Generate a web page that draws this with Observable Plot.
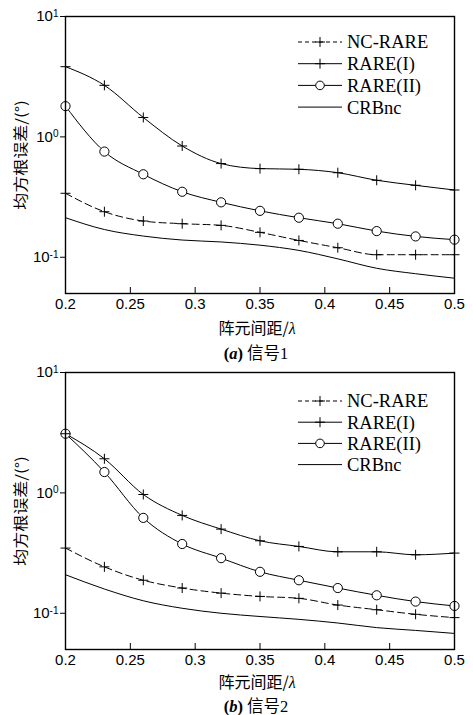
<!DOCTYPE html>
<html><head><meta charset="utf-8">
<script src="https://cdn.jsdelivr.net/npm/d3@7"></script>
<script src="https://cdn.jsdelivr.net/npm/@observablehq/plot@0.6"></script>
<style>
body{margin:0;background:#fff;}
#root{position:relative;width:473px;height:715px;overflow:hidden;background:#fff;}
.abs{position:absolute;white-space:nowrap;line-height:1;}
.panel{position:absolute;left:0;}
.xlabel{font-family:"Noto Sans CJK SC",sans-serif;font-size:16px;transform:translate(-50%,-50%);}
.xlabel i{line-height:1;}
.ylabel{font-family:"Noto Sans CJK SC",sans-serif;font-size:17px;transform:translate(-50%,-50%) rotate(-90deg) scaleY(0.85);}
.caption{font-size:16.5px;transform:translate(-50%,-50%);}
.caption span{line-height:1;}
.serif{font-family:"Liberation Serif","Times New Roman",serif;}
.cjk{font-family:"Noto Sans CJK SC",sans-serif;}
</style>
</head><body>
<div id="root"></div>
<script>
// ---- data ----
const spacing = [0.2, 0.23, 0.26, 0.29, 0.32, 0.35, 0.38, 0.41, 0.44, 0.47, 0.5];
const seriesNames = ["NC-RARE", "RARE(I)", "RARE(II)", "CRBnc"];

// panel (a) 信号1
const a_ncRare = [0.34, 0.239, 0.20, 0.19, 0.184, 0.161, 0.138, 0.12, 0.105, 0.105, 0.105];
const a_rare1  = [3.83, 2.68, 1.45, 0.84, 0.60, 0.545, 0.538, 0.504, 0.436, 0.396, 0.362];
const a_rare2  = [1.80, 0.755, 0.489, 0.35, 0.286, 0.243, 0.213, 0.19, 0.165, 0.149, 0.140];
const a_crb    = [0.213, 0.170, 0.150, 0.139, 0.134, 0.126, 0.114, 0.097, 0.081, 0.073, 0.067];

// panel (b) 信号2
const b_ncRare = [0.348, 0.243, 0.188, 0.162, 0.147, 0.138, 0.133, 0.117, 0.107, 0.098, 0.092];
const b_rare1  = [3.1, 1.92, 0.97, 0.65, 0.50, 0.40, 0.359, 0.324, 0.324, 0.306, 0.316];
const b_rare2  = [3.1, 1.49, 0.62, 0.376, 0.287, 0.221, 0.188, 0.162, 0.141, 0.125, 0.115];
const b_crb    = [0.209, 0.159, 0.127, 0.110, 0.100, 0.094, 0.089, 0.083, 0.076, 0.072, 0.068];

const xTicks = [0.2, 0.25, 0.3, 0.35, 0.4, 0.45, 0.5];
const xTickLabels = ["0.2", "0.25", "0.3", "0.35", "0.4", "0.45", "0.5"];
const yTicks = [0.1, 1, 10];
const yTickExponents = ["-1", "0", "1"];
const xLabel = "阵元间距/";
const yLabel = "均方根误差/(°)";
const captionsLetter = ["a", "b"];
const captionsText = ["信号", "信号"];
const captionsNum = ["1", "2"];

// ---- helpers ----
const thinPlus = {
  draw(ctx, size) {
    const r = Math.sqrt(size / Math.PI);
    ctx.moveTo(-r, 0); ctx.lineTo(r, 0);
    ctx.moveTo(0, -r); ctx.lineTo(0, r);
  }
};
const toRows = (vals) => spacing.map((x, i) => ({x, y: vals[i]}));

function makePanel(nc, r1, r2, crb) {
  const dNc = toRows(nc), dR1 = toRows(r1), dR2 = toRows(r2), dCrb = toRows(crb);
  const svg = Plot.plot({
    width: 473, height: 340,
    marginLeft: 65, marginRight: 19, marginTop: 16, marginBottom: 47,
    style: {fontFamily: "'Liberation Sans', Arial, sans-serif", fontSize: "15px", color: "black", background: "transparent", overflow: "visible"},
    x: {domain: [0.2, 0.5]},
    y: {type: "log", domain: [0.05, 10]},
    marks: [
      Plot.line(dCrb, {x: "x", y: "y", curve: "monotone-x", stroke: "black", strokeWidth: 1}),
      Plot.line(dNc, {x: "x", y: "y", curve: "monotone-x", stroke: "black", strokeWidth: 1, strokeDasharray: "7,4"}),
      Plot.line(dR2, {x: "x", y: "y", curve: "monotone-x", stroke: "black", strokeWidth: 1}),
      Plot.line(dR1, {x: "x", y: "y", curve: "monotone-x", stroke: "black", strokeWidth: 1}),
      Plot.dot(dR2, {x: "x", y: "y", symbol: "circle", r: 4.6, stroke: "black", fill: "white", strokeWidth: 1}),
      Plot.dot(dNc, {x: "x", y: "y", symbol: thinPlus, r: 5, stroke: "black", fill: "none", strokeWidth: 1}),
      Plot.dot(dR1, {x: "x", y: "y", symbol: thinPlus, r: 5, stroke: "black", fill: "none", strokeWidth: 1}),
      Plot.axisX({ticks: xTicks, tickFormat: (d) => xTickLabels[xTicks.indexOf(d)], tickSize: -6, tickPadding: 11, label: null, fontSize: 15}),
      Plot.axisY({ticks: yTicks, tickFormat: (d) => "10^" + yTickExponents[yTicks.indexOf(d)], tickSize: 5, tickPadding: 2, label: null, fontSize: 15}),
      Plot.frame({stroke: "black", strokeWidth: 1.4})
    ]
  });
  // superscript exponents
  d3.select(svg).selectAll('g[aria-label="y-axis tick label"] text').each(function() {
    const t = d3.select(this);
    const parts = t.text().split("^");
    t.text(null);
    t.append("tspan").text(parts[0]);
    t.append("tspan").attr("dy", "-0.45em").attr("font-size", "10px").text(parts[1]);
  });
  return svg;
}

function makeLegend(rowTop, spacingY) {
  const w = 160, h = 100;
  const s = d3.create("svg").attr("width", w).attr("height", h)
    .style("position", "absolute").style("overflow", "visible");
  seriesNames.forEach((name, i) => {
    const y = rowTop + i * spacingY;
    const g = s.append("g").attr("transform", `translate(0,${y})`);
    const ln = g.append("line").attr("x1", 0).attr("x2", 44).attr("y1", 0).attr("y2", 0)
      .attr("stroke", "black").attr("stroke-width", 1);
    if (i === 0) ln.attr("stroke-dasharray", "4,3");
    if (i === 0 || i === 1) {
      g.append("path").attr("d", "M17,0H27M22,-5V5").attr("stroke", "black").attr("fill", "none");
    } else if (i === 2) {
      g.append("circle").attr("cx", 22).attr("cy", 0).attr("r", 4.3).attr("stroke", "black").attr("fill", "white");
    }
    g.append("text").attr("x", 49).attr("y", 0).attr("dy", "0.35em")
      .attr("font-family", "'Liberation Serif','Times New Roman',serif").attr("font-size", 18.5)
      .attr("fill", "black").text(name);
  });
  return s.node();
}

const root = document.getElementById("root");
function addPanel(top, svg, legendRowTop, legendSpacing, idx, xLabelY, captionY) {
  const wrap = document.createElement("div");
  wrap.className = "panel"; wrap.style.top = top + "px";
  wrap.appendChild(svg);
  root.appendChild(wrap);
  const leg = makeLegend(0, legendSpacing);
  leg.style.left = "298px"; leg.style.top = (top + legendRowTop) + "px";
  root.appendChild(leg);
  const xl = document.createElement("div");
  xl.className = "abs xlabel"; xl.style.left = "257px"; xl.style.top = xLabelY + "px";
  xl.innerHTML = xLabel + '<i style="font-family:\'Liberation Serif\',serif">λ</i>';
  root.appendChild(xl);
  const yl = document.createElement("div");
  yl.className = "abs ylabel"; yl.style.left = "20px"; yl.style.top = (top + 16 + 138.5) + "px";
  yl.textContent = yLabel;
  root.appendChild(yl);
  const cap = document.createElement("div");
  cap.className = "abs caption"; cap.style.left = "256px"; cap.style.top = captionY + "px";
  cap.innerHTML = `<span class="serif" style="font-weight:bold">(<i>${captionsLetter[idx]}</i>)</span> <span class="cjk">${captionsText[idx]}</span><span class="serif">${captionsNum[idx]}</span>`;
  root.appendChild(cap);
}

addPanel(0, makePanel(a_ncRare, a_rare1, a_rare2, a_crb), 42, 21.7, 0, 328, 353);
addPanel(356, makePanel(b_ncRare, b_rare1, b_rare2, b_crb), 45, 21.2, 1, 681.5, 705.5);
</script>
</body></html>
